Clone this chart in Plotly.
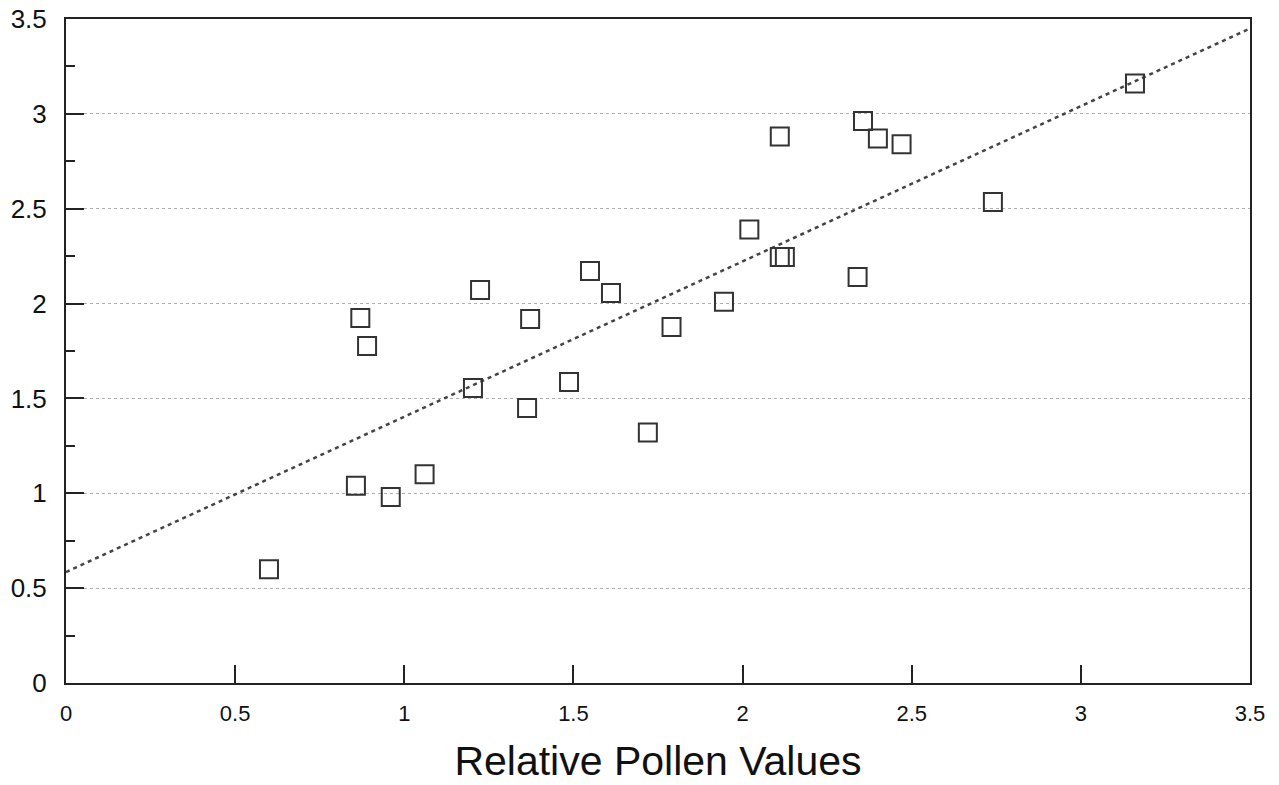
import plotly.graph_objects as go

# Data
pollen_x = [0.60, 0.857, 0.96, 1.06, 0.87, 0.89, 1.203, 1.224, 1.363, 1.372,
            1.487, 1.549, 1.611, 1.72, 1.79, 1.945, 2.02, 2.11, 2.125, 2.11,
            2.34, 2.356, 2.40, 2.47, 2.74, 3.16]
value_y = [0.60, 1.04, 0.98, 1.10, 1.924, 1.776, 1.555, 2.072, 1.45, 1.919,
           1.587, 2.172, 2.056, 1.32, 1.877, 2.01, 2.39, 2.245, 2.245, 2.88,
           2.14, 2.963, 2.87, 2.84, 2.535, 3.16]

trend_x = [0.0, 3.5]
trend_y = [0.585, 3.45]

tick_vals = [0, 0.5, 1, 1.5, 2, 2.5, 3, 3.5]
tick_text = ["0", "0.5", "1", "1.5", "2", "2.5", "3", "3.5"]

fig = go.Figure()
fig.add_trace(go.Scatter(
    x=trend_x, y=trend_y, mode="lines",
    line=dict(color="#444444", width=2.5, dash="4px,4px"),
    showlegend=False, hoverinfo="skip"))
fig.add_trace(go.Scatter(
    x=pollen_x, y=value_y, mode="markers",
    marker=dict(symbol="square-open", size=18, color="#333333",
                line=dict(color="#333333", width=2)),
    showlegend=False))

fig.update_layout(
    width=1279, height=785,
    margin=dict(l=66, r=29, t=19, b=102),
    paper_bgcolor="white", plot_bgcolor="white",
    font=dict(family="Liberation Sans, Arial, sans-serif", color="#111111"),
    xaxis=dict(
        range=[0, 3.5], tickvals=tick_vals, ticktext=tick_text,
        ticks="inside", ticklen=18, tickwidth=2, tickcolor="#222222",
        showline=True, linewidth=2, linecolor="#222222", mirror=True,
        showgrid=False, zeroline=False, automargin=False,
        ticklabeloverflow="allow",
        tickfont=dict(size=22, family="Liberation Sans Narrow, Liberation Sans, Arial"),
        ticklabelstandoff=10,
        title=dict(text="Relative Pollen Values",
                   font=dict(size=41, family="Liberation Sans, Arial"),
                   standoff=21),
    ),
    yaxis=dict(
        range=[0, 3.5], tickvals=tick_vals, ticktext=tick_text,
        ticks="inside", ticklen=18, tickwidth=2, tickcolor="#222222",
        minor=dict(dtick=0.25, ticks="inside", ticklen=9, tickwidth=1.5,
                   tickcolor="#222222", showgrid=False),
        showline=True, linewidth=2, linecolor="#222222", mirror=True,
        showgrid=True, gridcolor="#b0b0b0", gridwidth=1, griddash="dot",
        zeroline=False, automargin=False,
        ticklabeloverflow="allow",
        tickfont=dict(size=26),
        ticklabelstandoff=12,
    ),
)

fig.write_html(
    "out.html",
    config={"displayModeBar": False},
    post_script="document.body.style.margin='0';document.body.style.overflow='hidden';",
)
